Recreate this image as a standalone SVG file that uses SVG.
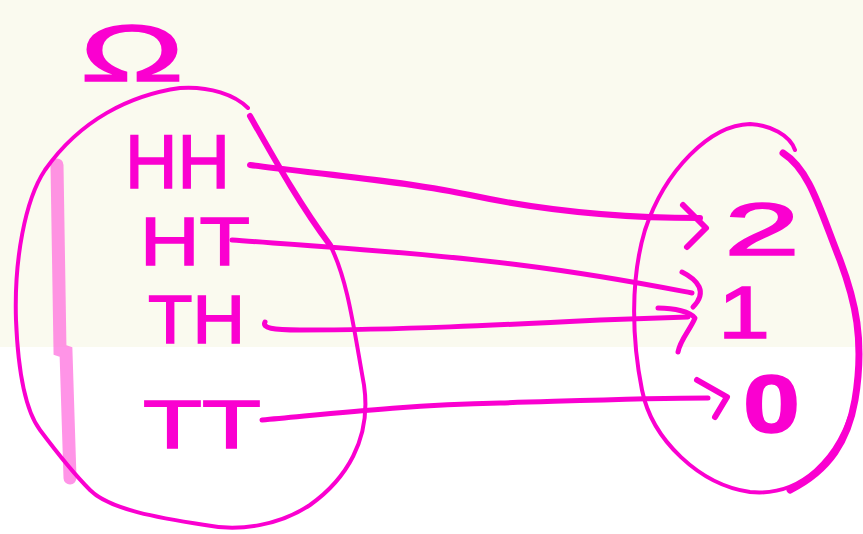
<svg xmlns="http://www.w3.org/2000/svg" width="863" height="534" viewBox="0 0 863 534">
<style>
.ink{fill:none;stroke:#fa00d0;stroke-linecap:round;stroke-linejoin:round}
.lbl{fill:#fa00d0;stroke:#fa00d0;stroke-width:1.5;font-family:"Liberation Sans",Arial,sans-serif}
</style>
<rect x="0" y="0" width="863" height="534" fill="#ffffff"/>
<rect x="0" y="0" width="863" height="347" fill="#fafaef"/>
<g id="omega-set">
<path d="M57,165 L60,350 L66,352 L70,478" fill="none" stroke="#ff66dd" stroke-opacity="0.7" stroke-width="13" stroke-linecap="round"/>
<path class="ink" stroke-width="4" d="M248,108 C235,95 210,86 180,88 C130,95 80,120 45,170 C25,200 14,260 16,320 C18,370 25,410 40,430 C55,450 70,470 90,490 C110,510 160,518 205,525 C240,532 280,525 310,505 C345,480 372,440 364,385 C354,330 348,280 330,245"/>
<path class="ink" stroke-width="6" d="M250,116 C275,160 300,205 330,245"/>
<text class="lbl" x="80" y="81" font-size="79" textLength="104" lengthAdjust="spacingAndGlyphs">Ω</text>
<text class="lbl" x="125" y="188" font-size="76" textLength="105" lengthAdjust="spacingAndGlyphs">HH</text>
<text class="lbl" x="140" y="265" font-size="68" textLength="110" lengthAdjust="spacingAndGlyphs">HT</text>
<text class="lbl" x="148" y="343" font-size="68" textLength="97" lengthAdjust="spacingAndGlyphs">TH</text>
<text class="lbl" x="143" y="448" font-size="68" textLength="118" lengthAdjust="spacingAndGlyphs">TT</text>
</g>
<g id="values-set">
<path class="ink" stroke-width="4" d="M795,150 C790,135 770,125 750,124 C710,125 665,170 645,230 C630,280 632,340 642,390 C652,440 700,485 750,492 C800,497 840,460 855,400"/>
<path class="ink" stroke-width="7" d="M783,153 C810,170 820,210 840,260 C855,300 865,340 855,400 C848,440 830,470 790,490"/>
<text class="lbl" x="724" y="255" font-size="74" textLength="76" lengthAdjust="spacingAndGlyphs">2</text>
<text class="lbl" x="718" y="338" font-size="74" textLength="52" lengthAdjust="spacingAndGlyphs">1</text>
<text class="lbl" x="743" y="432" font-size="82" textLength="57" lengthAdjust="spacingAndGlyphs" font-weight="bold">0</text>
</g>
<g id="connectors">
<path class="ink" stroke-width="6" d="M250,165 C300,172 400,180 470,195 C540,210 620,218 700,218"/>
<path class="ink" stroke-width="6" d="M683,205 L706,228 L687,247"/>
<path class="ink" stroke-width="5" d="M232,240 C300,245 420,252 520,265 C600,275 650,285 692,293"/>
<path class="ink" stroke-width="5" d="M682,272 C698,280 708,292 693,307"/>
<path class="ink" stroke-width="5" d="M265,322 C262,328 272,330 300,330 C400,330 500,325 600,320 L688,317"/>
<path class="ink" stroke-width="5" d="M658,308 C675,308 690,312 695,318 C690,330 680,340 678,352"/>
<path class="ink" stroke-width="5" d="M262,420 C320,415 400,405 500,403 C600,400 650,398 708,398"/>
<path class="ink" stroke-width="6" d="M697,380 L727,397 L715,417"/>
</g>
</svg>
